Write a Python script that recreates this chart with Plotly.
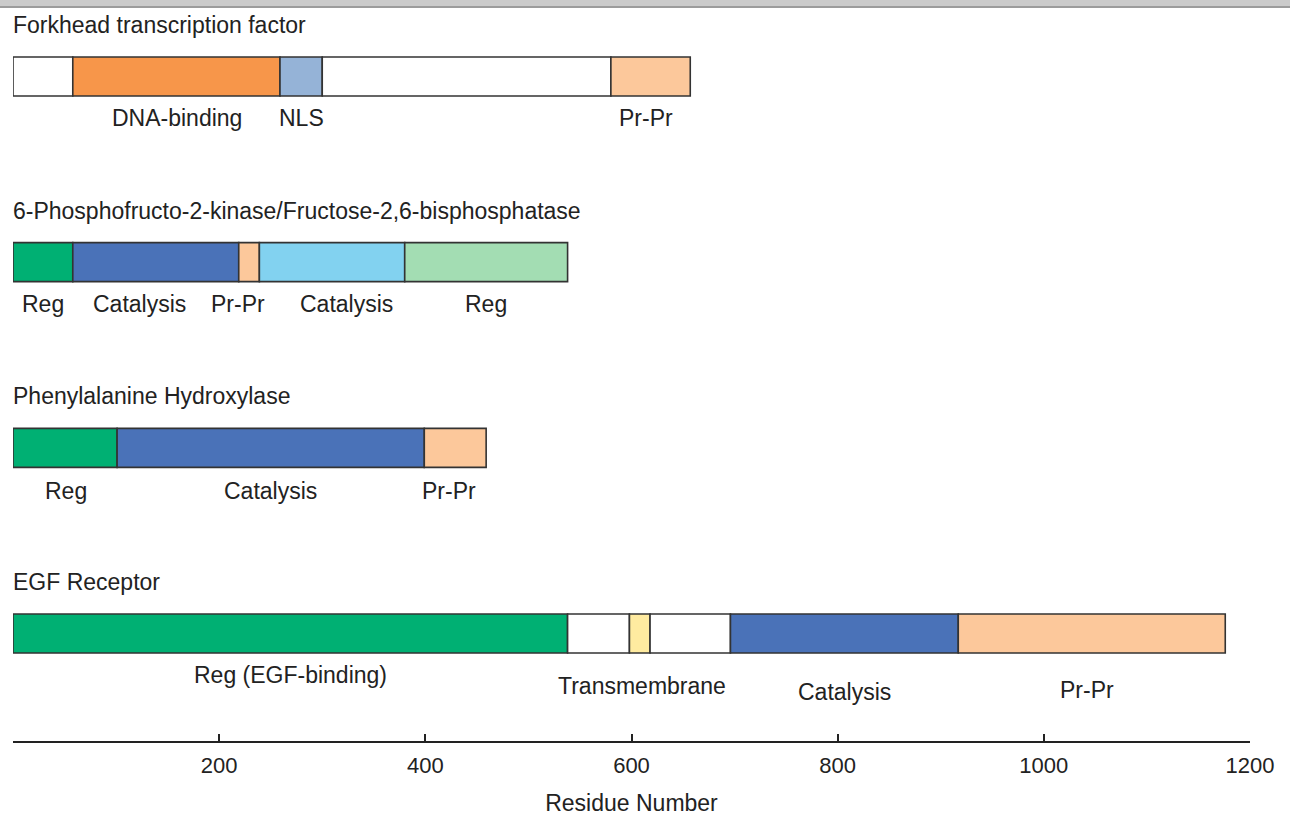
import plotly.graph_objects as go

# ---- data ----
proteins = ["Forkhead transcription factor",
            "6-Phosphofructo-2-kinase/Fructose-2,6-bisphosphatase",
            "Phenylalanine Hydroxylase",
            "EGF Receptor"]
rows = [3, 2, 1, 0]

forkhead_bounds = [0, 58, 259, 300, 580, 657]
pfk_bounds = [0, 58, 219, 239, 380, 538]
pah_bounds = [0, 101, 399, 459]
egfr_bounds = [0, 538, 598, 618, 696, 917, 1176]

forkhead_colors = ["#FFFFFF", "#F7964A", "#95B3D7", "#FFFFFF", "#FCC89B"]
pfk_colors = ["#00B073", "#4A72B8", "#FCC89B", "#82D2F0", "#A3DDB3"]
pah_colors = ["#00B073", "#4A72B8", "#FCC89B"]
egfr_colors = ["#00B073", "#FFFFFF", "#FFEBA0", "#FFFFFF", "#4A72B8", "#FCC89B"]

forkhead_labels = ["DNA-binding", "NLS", "Pr-Pr"]
forkhead_label_x = [159, 280, 614]
pfk_labels = ["Reg", "Catalysis", "Pr-Pr", "Catalysis", "Reg"]
pfk_label_x = [29, 123, 218, 324, 459]
pah_labels = ["Reg", "Catalysis", "Pr-Pr"]
pah_label_x = [51, 250, 423]
egfr_labels = ["Reg (EGF-binding)", "Transmembrane", "Catalysis", "Pr-Pr"]
egfr_label_x = [269, 610, 807, 1042]

tick_vals = [200, 400, 600, 800, 1000, 1200]
x_title = "Residue Number"

# ---- style ----
forkhead_label_dy = [41.5, 41.5, 41.5]
pfk_label_dy = [41.5, 41.5, 41.5, 41.5, 41.5]
pah_label_dy = [43, 43, 43]
egfr_label_dy = [41.5, 52.5, 58.5, 56.5]
title_dy = 51.5
FONT = "Liberation Sans, Arial, Helvetica, sans-serif"
TXT = "#222222"
FS = 23

bounds_all = [forkhead_bounds, pfk_bounds, pah_bounds, egfr_bounds]
colors_all = [forkhead_colors, pfk_colors, pah_colors, egfr_colors]
labels_all = [forkhead_labels, pfk_labels, pah_labels, egfr_labels]
labx_all = [forkhead_label_x, pfk_label_x, pah_label_x, egfr_label_x]
dy_all = [forkhead_label_dy, pfk_label_dy, pah_label_dy, egfr_label_dy]

fig = go.Figure()
annotations = []
for name, row, b, cols, labs, lx, dys in zip(proteins, rows, bounds_all, colors_all,
                                             labels_all, labx_all, dy_all):
    starts = b[:-1]
    lengths = [b[i + 1] - b[i] for i in range(len(b) - 1)]
    fig.add_trace(go.Bar(
        orientation="h",
        y=[row] * len(starts),
        x=lengths,
        base=starts,
        width=0.21,
        marker=dict(color=cols, line=dict(color="#333333", width=1.6)),
        showlegend=False,
        hoverinfo="skip",
    ))
    annotations.append(dict(x=0, y=row, xref="x", yref="y", text=name,
                            showarrow=False, xanchor="left", yanchor="middle",
                            xshift=-2, yshift=title_dy,
                            font=dict(family=FONT, size=FS, color=TXT)))
    for t, x, dy in zip(labs, lx, dys):
        annotations.append(dict(x=x, y=row, xref="x", yref="y", text=t,
                                showarrow=False, xanchor="center", yanchor="middle",
                                yshift=-dy, font=dict(family=FONT, size=FS, color=TXT)))

plot_h = 741
fig.update_layout(
    width=1290, height=816,
    margin=dict(l=13, r=40, t=0, b=75),
    paper_bgcolor="white", plot_bgcolor="white",
    barmode="overlay",
    annotations=annotations,
    font=dict(family=FONT, size=FS, color=TXT),
    shapes=[
        dict(type="rect", xref="paper", yref="paper", x0=-0.02, x1=1.05,
             y0=1 - 6 / plot_h, y1=1.0, fillcolor="#CBCBCB", line=dict(width=0), layer="above"),
        dict(type="rect", xref="paper", yref="paper", x0=-0.02, x1=1.05,
             y0=1 - 8 / plot_h, y1=1 - 6 / plot_h, fillcolor="#9C9C9C", line=dict(width=0), layer="above"),
    ],
)
fig.update_xaxes(
    range=[0, 1200], tickvals=tick_vals, ticktext=[str(v) for v in tick_vals],
    ticks="inside", ticklen=7, tickwidth=1.5, tickcolor="#222222",
    showline=True, linecolor="#222222", linewidth=1.6, showgrid=False, zeroline=False,
    tickfont=dict(family=FONT, size=22, color=TXT), ticklabelstandoff=4,
    title=dict(text=x_title, font=dict(family=FONT, size=FS, color=TXT), standoff=20),
)
fig.update_yaxes(range=[-0.579, 3.412], visible=False, fixedrange=True)

fig.write_html("out.html", config={"displayModeBar": False},
               post_script="document.body.style.margin='0';document.body.style.overflow='hidden';")
